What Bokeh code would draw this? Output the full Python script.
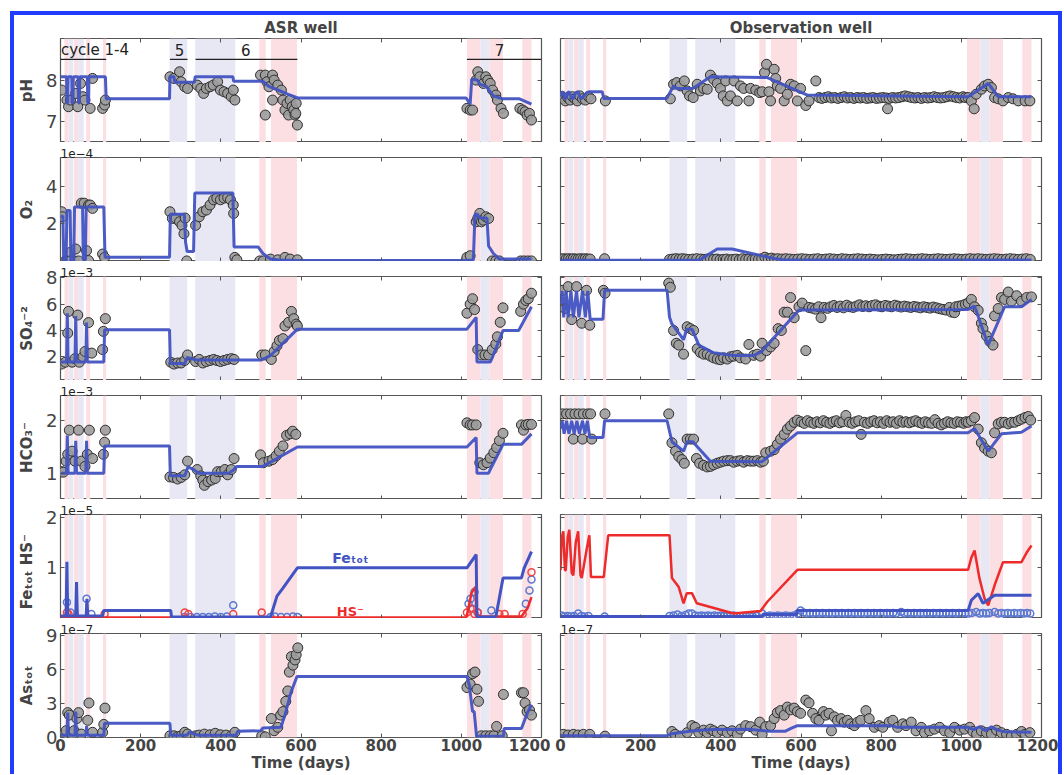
from bokeh.plotting import figure
from bokeh.layouts import column, row
from bokeh.models import Range1d, LinearAxis, FixedTicker, Title
from bokeh.embed import file_html
from bokeh.resources import INLINE
from bokeh.core.properties import value

FONT = "DejaVu Sans"
BLUE = "#4253c2"
RED = "#ee2b2b"
OPEN_BLUE = "#5a78d0"
OPEN_RED = "#f04545"
GRAY = "#9c9c9c"
EDGE = "#2e2e2e"
PINK = "#fbdfe3"
LAV = "#e8e8f5"
FRAME = "#555555"

# ---------------- shared axes / annotations ----------------
X_TICKS = [0, 200, 400, 600, 800, 1000, 1200]
PINK_BANDS = [(10, 20), (34, 44), (64, 74), (106, 114), (496, 512), (525, 590),
              (1014, 1048), (1070, 1104), (1152, 1175)]
LAV_BANDS = [(20, 32), (44, 58), (272, 316), (336, 436), (1048, 1070)]
CYCLE_TEXT = ["cycle 1-4", "5", "6", "7"]
CYCLE_TEXT_X = [1, 297, 462, 1095]
CYCLE_SPANS = [(0, 114), (273, 317), (337, 591), (1014, 1200)]
ROW_YRANGE = [(6.5, 9.0), (-0.03, 5.55), (0.2, 8.1), (0.5, 2.48), (0.0, 2.05), (0.0, 9.2)]
ROW_YTICKS = [[7, 8], [2, 4], [2, 4, 6, 8], [1, 2], [1, 2], [0, 3, 6, 9]]
ROW_YLABEL = ["pH", "O₂", "SO₄⁻²", "HCO₃⁻", "Feₜₒₜ   HS⁻", "Asₜₒₜ"]
OFFSET_LEFT = [None, "1e−4", "1e−3", "1e−3", "1e−5", "1e−7"]
OFFSET_RIGHT = [None, None, None, None, None, "1e−7"]
COL_TITLES = ["ASR well", "Observation well"]

# ---------------- ASR well (values in axis units: pH, 1e-4, 1e-3, 1e-3, 1e-5, 1e-7) ----------------
ASR_PH_MODEL = [(0, 8.08), (15, 8.08), (16, 7.45), (18, 7.45), (19, 8.08), (28, 8.08), (29, 7.45), (31, 7.45),
                (32, 8.08), (44, 8.08), (45, 7.45), (47, 7.45), (48, 8.08), (67, 8.08), (68, 7.45), (70, 7.45),
                (71, 8.08), (112, 8.08), (114, 7.55), (272, 7.55), (273, 8.08), (283, 8.08), (285, 7.95),
                (334, 7.95), (336, 8.08), (430, 8.08), (432, 7.97), (505, 7.97), (520, 7.85), (545, 7.75),
                (570, 7.65), (592, 7.57), (1012, 7.57), (1022, 7.42), (1026, 8.02), (1040, 8.0), (1046, 7.9),
                (1062, 7.85), (1080, 7.62), (1102, 7.55), (1145, 7.55), (1175, 7.42)]
ASR_PH_DATA = [(3, 7.76), (16, 7.52), (20, 7.36), (25, 7.52), (38, 7.68), (43, 7.36), (50, 7.92), (56, 7.6),
               (61, 7.52), (74, 7.32), (80, 8.04), (105, 7.32), (110, 7.4), (112, 7.52),
               (273, 8.08), (283, 8.04), (297, 8.2), (301, 7.96), (310, 7.84), (317, 7.8),
               (341, 7.88), (350, 7.8), (357, 7.68), (364, 7.8), (373, 7.84), (381, 7.88), (392, 7.96),
               (399, 7.76), (408, 7.72), (417, 7.68), (426, 7.6), (431, 7.76), (435, 7.52),
               (499, 8.12), (511, 8.12), (515, 7.96), (520, 7.84), (529, 8.12), (529, 7.52), (511, 7.16),
               (533, 8.0), (542, 7.88), (551, 7.76), (555, 7.52), (560, 7.28), (565, 7.44), (569, 7.16),
               (573, 7.52), (578, 7.36), (582, 7.28), (585, 7.16), (588, 7.44), (591, 6.92), (587, 7.2),
               (1014, 7.32), (1022, 7.28), (1028, 7.28), (1037, 8.0), (1041, 8.2), (1046, 8.08), (1055, 7.92),
               (1061, 8.08), (1066, 8.0), (1072, 7.92), (1078, 7.76), (1086, 7.64), (1090, 7.52), (1099, 7.32),
               (1105, 7.2), (1146, 7.32), (1153, 7.28), (1159, 7.24), (1164, 7.16), (1170, 7.2), (1175, 7.04)]

ASR_O2_MODEL = [(0, 2.4), (6, 2.4), (8, 0.0), (14, 0.0), (16, 2.7), (24, 2.7), (26, 0.0), (33, 0.0), (35, 2.9),
                (55, 2.9), (57, 0.05), (62, 0.05), (64, 2.9), (108, 2.9), (111, 0.2), (272, 0.2), (274, 2.5),
                (309, 2.5), (312, 1.0), (316, 0.5), (332, 0.5), (335, 3.65), (430, 3.65), (433, 0.75),
                (493, 0.75), (505, 0.4), (524, 0.1), (545, 0.05), (592, 0.02), (1010, 0.02), (1030, 0.05),
                (1034, 2.5), (1040, 2.5), (1046, 2.3), (1064, 2.3), (1068, 0.8), (1080, 0.4), (1095, 0.1),
                (1175, 0.1)]
ASR_O2_DATA = [(3, 2.64), (5, 2.37), (12, 0.0), (16, 0.0), (25, 0.46), (34, 0.0), (38, 0.64), (52, 3.1),
               (59, 3.1), (65, 0.55), (70, 3.0), (74, 3.0), (80, 2.82), (105, 0.37), (110, 0.19), (25, 0.0),
               (45, 0.0), (70, 0.02),
               (273, 2.64), (279, 2.28), (288, 2.28), (297, 2.1), (303, 1.91), (308, 1.46), (311, 2.3), (315, 0.0),
               (337, 1.91), (346, 2.37), (355, 2.64), (364, 2.73), (373, 3.0), (382, 3.28), (390, 3.37),
               (399, 3.28), (408, 3.37), (417, 3.4), (424, 3.28), (431, 3.0), (432, 2.55), (435, 0.19), (440, 0.06),
               (497, 0.0), (506, 0.0), (524, 0.1), (542, 0.06), (560, 0.19), (573, 0.1), (591, 0.06),
               (1014, 0.19), (1022, 0.28), (1037, 2.1), (1041, 2.28), (1046, 2.55), (1050, 2.1), (1055, 2.19),
               (1061, 2.37), (1068, 2.28), (1077, 0.0), (1086, 0.0), (1095, 0.0), (1148, 0.0), (1157, 0.0),
               (1166, 0.0), (1175, 0.0)]

ASR_SO4_MODEL = [(0, 1.6), (15, 1.6), (17, 5.3), (19, 1.6), (36, 1.6), (38, 5.1), (40, 1.6), (63, 1.6),
                 (65, 4.6), (67, 1.6), (108, 1.6), (110, 4.05), (272, 4.05), (274, 1.5), (310, 1.5),
                 (316, 1.95), (340, 1.75), (500, 1.75), (524, 2.1), (591, 4.1), (1014, 4.1), (1037, 5.0),
                 (1039, 1.6), (1072, 1.6), (1078, 2.0), (1104, 4.0), (1143, 4.0), (1175, 5.8)]
ASR_SO4_DATA = [(3, 1.45), (12, 1.59), (20, 5.45), (18, 3.8), (29, 1.59), (36, 1.86), (43, 5.17), (47, 1.59),
                (56, 2.0), (61, 2.4), (70, 4.6), (78, 2.28), (105, 2.55), (107, 3.93), (112, 4.9),
                (275, 1.59), (283, 1.45), (292, 1.53), (301, 1.53), (310, 1.72), (317, 2.14),
                (337, 1.64), (346, 1.8), (355, 1.53), (364, 1.64), (373, 1.72), (382, 1.8), (390, 1.72),
                (399, 1.64), (408, 1.72), (417, 1.8), (426, 1.86), (433, 1.8),
                (502, 2.14), (511, 2.14), (526, 1.8), (533, 2.41), (540, 2.83), (546, 3.24), (555, 3.38),
                (560, 4.34), (569, 4.62), (576, 5.45), (582, 4.9), (588, 4.48), (591, 4.34),
                (1014, 5.31), (1022, 6.0), (1028, 6.41), (1033, 5.59), (1041, 2.55), (1050, 2.14), (1059, 2.14),
                (1068, 2.14), (1077, 2.55), (1086, 2.97), (1090, 3.52), (1097, 4.62), (1104, 5.72),
                (1148, 5.45), (1155, 6.0), (1161, 6.28), (1167, 6.41), (1175, 6.83)]

ASR_HCO3_MODEL = [(0, 1.0), (15, 1.0), (17, 1.72), (19, 1.0), (36, 1.0), (38, 1.62), (40, 1.0), (63, 1.0),
                  (65, 1.62), (67, 1.0), (108, 1.0), (110, 1.52), (272, 1.52), (274, 0.95), (310, 0.95),
                  (318, 1.12), (330, 1.08), (345, 1.0), (420, 1.0), (430, 1.05), (440, 1.13), (505, 1.13),
                  (591, 1.5), (1014, 1.5), (1037, 1.68), (1039, 1.0), (1068, 1.0), (1074, 1.1), (1104, 1.55),
                  (1150, 1.55), (1175, 1.75)]
ASR_HCO3_DATA = [(3, 1.03), (7, 1.02), (14, 1.23), (18, 1.36), (22, 1.82), (29, 1.42), (36, 1.23), (45, 1.82),
                 (52, 1.23), (61, 1.13), (67, 1.36), (72, 1.82), (80, 1.28), (107, 1.36), (110, 1.59), (112, 1.82),
                 (273, 0.93), (282, 0.92), (292, 0.89), (301, 0.92), (310, 0.97), (317, 1.23),
                 (341, 1.07), (350, 0.95), (355, 0.87), (359, 0.77), (368, 0.84), (377, 0.87), (386, 0.9),
                 (392, 1.03), (401, 1.03), (410, 1.07), (417, 0.97), (426, 1.07), (433, 1.28),
                 (499, 1.35), (506, 1.2), (520, 1.23), (529, 1.26), (538, 1.33), (546, 1.42), (555, 1.52),
                 (564, 1.72), (573, 1.75), (579, 1.8), (587, 1.74),
                 (1014, 1.96), (1022, 1.92), (1028, 1.92), (1037, 1.92), (1046, 1.2), (1055, 1.16), (1064, 1.2),
                 (1072, 1.29), (1081, 1.39), (1088, 1.49), (1095, 1.62), (1104, 1.76), (1150, 1.92),
                 (1155, 1.82), (1161, 1.92), (1167, 1.93), (1175, 1.93)]

ASR_FE_MODEL = [(0, 0.05), (14, 0.05), (16, 1.12), (18, 0.05), (38, 0.05), (40, 0.72), (42, 0.05), (64, 0.05),
                (66, 0.39), (68, 0.05), (105, 0.05), (108, 0.16), (275, 0.16), (277, 0.03), (524, 0.03),
                (540, 0.44), (555, 0.6), (591, 1.0), (1014, 1.0), (1037, 1.26), (1039, 0.03), (1086, 0.03),
                (1104, 0.8), (1150, 0.8), (1157, 1.0), (1175, 1.32)]
ASR_HS_MODEL = [(0, 0.02), (14, 0.02), (16, 0.5), (18, 0.02), (38, 0.02), (40, 0.25), (42, 0.02), (1012, 0.02),
                (1018, 0.2), (1025, 0.5), (1035, 0.62), (1038, 0.04), (1150, 0.04), (1165, 0.2), (1175, 0.42)]
ASR_FE_DATA = [(16, 0.32), (25, 0.12), (65, 0.39), (77, 0.09), (310, 0.03), (325, 0.03), (340, 0.03),
               (355, 0.03), (370, 0.03), (385, 0.04), (400, 0.03), (415, 0.04), (431, 0.26), (524, 0.03),
               (535, 0.04), (550, 0.03), (565, 0.03), (580, 0.04), (591, 0.03), (1018, 0.29), (1023, 0.39),
               (1028, 0.19), (1033, 0.52), (1041, 0.12), (1075, 0.16), (1161, 0.29), (1170, 0.55), (1175, 0.77)]
ASR_HS_DATA = [(16, 0.12), (20, 0.09), (110, 0.09), (310, 0.12), (319, 0.09), (431, 0.09), (502, 0.12),
               (1014, 0.12), (1023, 0.19), (1033, 0.09), (1041, 0.12), (1095, 0.09), (1108, 0.09),
               (1153, 0.09), (1175, 0.91)]
FE_TEXT, FE_TEXT_X, FE_TEXT_Y = "Feₜₒₜ", 723, 1.2
HS_TEXT, HS_TEXT_X, HS_TEXT_Y = "HS⁻", 723, 0.13

ASR_AS_MODEL = [(0, 0.2), (16, 0.2), (18, 2.2), (20, 0.2), (36, 0.2), (38, 2.3), (40, 0.2), (63, 0.2), (65, 1.0),
                (67, 0.2), (108, 0.2), (110, 1.25), (273, 1.25), (275, 0.2), (315, 0.2), (322, 0.5), (335, 0.3),
                (345, 0.2), (438, 0.2), (442, 0.55), (500, 0.6), (505, 0.85), (550, 0.9), (560, 2.0),
                (575, 4.0), (590, 5.4), (1014, 5.4), (1020, 4.6), (1028, 2.3), (1032, 2.3), (1038, 0.1),
                (1105, 0.1), (1107, 0.8), (1150, 0.8), (1165, 2.2), (1175, 2.9)]
ASR_AS_DATA = [(3, 0.15), (7, 0.24), (14, 0.6), (18, 2.2), (22, 1.98), (29, 0.3), (34, 0.6), (41, 1.68),
               (45, 2.2), (52, 0.3), (68, 1.52), (71, 3.05), (80, 0.46), (105, 0.46), (108, 1.16), (111, 2.6),
               (273, 0.15), (283, 0.15), (292, 0.06), (301, 0.15), (310, 0.46), (317, 0.3),
               (337, 0.15), (346, 0.21), (359, 0.3), (373, 0.24), (386, 0.37), (399, 0.24), (413, 0.21),
               (426, 0.15), (435, 0.46),
               (502, 0.15), (511, 0.06), (526, 1.68), (533, 0.6), (542, 0.9), (549, 1.98), (555, 2.29),
               (562, 3.2), (567, 4.12), (571, 5.79), (576, 7.16), (580, 6.4), (585, 6.86), (588, 7.32),
               (592, 7.93),
               (1014, 4.42), (1022, 4.73), (1028, 5.64), (1034, 5.79), (1039, 4.27), (1043, 3.2), (1050, 0.15),
               (1061, 0.15), (1072, 0.15), (1081, 0.15), (1088, 0.98), (1102, 0.15), (1105, 3.81),
               (1150, 3.96), (1155, 3.96), (1159, 3.05), (1164, 2.29), (1170, 2.44), (1175, 1.98)]

# ---------------- Observation well ----------------
OBS_PH_MODEL = [(0, 7.6), (3, 7.7), (7, 7.72), (11, 7.55), (14, 7.56), (18, 7.7), (22, 7.72), (28, 7.55),
                (32, 7.56), (38, 7.7), (44, 7.72), (50, 7.55), (53, 7.56), (66, 7.7), (72, 7.72), (104, 7.72),
                (108, 7.56), (265, 7.56), (282, 7.86), (290, 7.8), (330, 7.8), (374, 8.08), (516, 8.06),
                (616, 7.64), (1017, 7.6), (1067, 7.92), (1092, 7.6), (1175, 7.6)]
OBS_PH_DATA = [(3, 7.6), (8, 7.55), (12, 7.5), (18, 7.58), (24, 7.52), (30, 7.6), (36, 7.55), (42, 7.5),
               (48, 7.62), (55, 7.55), (62, 7.52), (70, 7.6), (76, 7.55), (112, 7.5),
               (274, 7.55), (282, 7.9), (290, 7.94), (299, 7.86), (309, 7.98), (316, 7.74), (322, 7.62),
               (331, 7.58), (341, 7.9), (349, 7.74), (357, 7.8), (366, 7.78), (374, 8.12), (382, 8.02),
               (391, 7.92), (399, 7.8), (406, 7.62), (412, 7.98), (416, 7.5), (424, 7.62), (433, 7.98),
               (441, 7.5), (449, 7.86), (457, 7.8), (470, 7.5), (474, 7.8), (487, 7.76), (497, 7.7),
               (503, 7.72), (509, 8.18), (514, 8.38), (520, 7.72), (524, 7.5), (533, 8.26), (537, 8.04),
               (541, 7.86), (549, 7.8), (558, 7.5), (566, 7.66), (574, 7.9), (583, 7.86), (591, 7.5),
               (599, 7.8), (612, 7.39), (620, 7.5), (637, 7.98),
               (645, 7.58), (652, 7.56), (660, 7.58), (668, 7.6), (676, 7.57), (684, 7.58), (692, 7.56),
               (700, 7.58), (708, 7.6), (716, 7.57), (724, 7.58), (732, 7.56), (740, 7.58), (748, 7.57),
               (756, 7.58), (764, 7.56), (772, 7.57), (780, 7.58), (788, 7.56), (796, 7.57), (804, 7.58),
               (812, 7.57), (816, 7.31), (820, 7.56), (828, 7.58), (836, 7.57), (844, 7.58), (852, 7.6),
               (860, 7.62), (868, 7.6), (876, 7.58), (884, 7.57), (892, 7.58), (900, 7.56), (908, 7.58),
               (916, 7.57), (924, 7.58), (932, 7.6), (940, 7.58), (948, 7.57), (956, 7.58), (964, 7.6),
               (972, 7.62), (980, 7.6), (988, 7.58), (996, 7.57), (1004, 7.6), (1010, 7.58),
               (1017, 7.58), (1025, 7.5), (1032, 7.31), (1037, 7.66), (1050, 7.78), (1058, 7.86), (1067, 7.9),
               (1075, 7.82), (1083, 7.58), (1092, 7.55), (1104, 7.5), (1117, 7.58), (1129, 7.55),
               (1142, 7.5), (1159, 7.5), (1171, 7.5)]

OBS_O2_MODEL = [(0, 0.04), (345, 0.04), (352, 0.12), (391, 0.64), (428, 0.64), (533, 0.13), (560, 0.05),
                (1175, 0.05)]
OBS_O2_DATA = [(3, 0.1), (8, 0.12), (14, 0.1), (20, 0.12), (26, 0.1), (32, 0.12), (38, 0.1), (44, 0.1),
               (50, 0.12), (56, 0.1), (62, 0.12), (68, 0.1), (74, 0.1), (110, 0.12), (272, 0.08), (280, 0.1),
               (288, 0.12), (296, 0.1), (304, 0.12), (312, 0.1), (320, 0.08), (330, 0.1), (340, 0.12),
               (350, 0.1), (358, 0.08), (366, 0.1), (374, 0.12), (382, 0.08), (390, 0.1), (398, 0.06),
               (406, 0.08), (414, 0.1), (422, 0.06), (430, 0.08), (438, 0.1), (446, 0.06), (454, 0.12),
               (462, 0.08), (470, 0.1), (478, 0.06), (486, 0.1), (494, 0.08), (502, 0.12), (510, 0.2),
               (518, 0.12), (526, 0.15), (534, 0.1), (542, 0.12), (552, 0.1), (562, 0.12), (572, 0.1),
               (582, 0.08), (592, 0.1), (602, 0.12), (612, 0.1), (622, 0.08), (632, 0.1), (642, 0.12),
               (652, 0.08), (662, 0.1), (672, 0.12), (682, 0.1), (692, 0.08), (702, 0.12), (712, 0.1),
               (722, 0.08), (732, 0.1), (742, 0.12), (752, 0.1), (762, 0.08), (772, 0.1), (782, 0.08),
               (792, 0.06), (802, 0.08), (812, 0.1), (822, 0.08), (832, 0.06), (842, 0.08), (852, 0.1),
               (862, 0.12), (872, 0.1), (882, 0.08), (892, 0.1), (902, 0.12), (912, 0.1), (922, 0.08),
               (932, 0.1), (942, 0.12), (952, 0.1), (962, 0.08), (972, 0.1), (982, 0.12), (992, 0.1),
               (1002, 0.08), (1012, 0.1), (1022, 0.12), (1032, 0.1), (1042, 0.12), (1052, 0.1), (1062, 0.08),
               (1072, 0.1), (1082, 0.12), (1092, 0.1), (1102, 0.08), (1112, 0.1), (1122, 0.12), (1132, 0.1),
               (1142, 0.08), (1152, 0.1), (1162, 0.12), (1172, 0.08)]

OBS_SO4_MODEL = [(0, 6.0), (4, 7.0), (8, 5.0), (14, 7.0), (19, 5.0), (26, 7.0), (32, 5.0), (40, 7.0),
                 (46, 5.0), (55, 7.0), (62, 5.0), (68, 7.0), (74, 4.85), (106, 4.85), (110, 7.05), (266, 7.05),
                 (272, 5.0), (278, 4.5), (307, 3.3), (315, 4.1), (328, 4.1), (345, 2.9), (382, 2.3),
                 (432, 2.1), (482, 2.1), (500, 2.35), (595, 5.55), (1017, 5.6), (1033, 5.85), (1067, 2.9),
                 (1108, 5.8), (1150, 5.8), (1175, 6.35)]
OBS_SO4_DATA = [(5, 7.05), (11, 5.67), (19, 7.33), (28, 4.83), (40, 7.33), (53, 4.55), (65, 7.05), (73, 4.4),
                (107, 7.05), (111, 6.83),
                (270, 7.6), (274, 7.28), (282, 4.0), (289, 3.03), (295, 2.89), (307, 2.2), (316, 4.28),
                (324, 4.14), (332, 4.0), (341, 2.61), (349, 2.33), (357, 2.2), (366, 2.2), (374, 2.05),
                (382, 1.92), (391, 1.83), (399, 1.78), (407, 1.92), (416, 1.83), (424, 2.0), (432, 2.05),
                (441, 2.11), (449, 1.92), (462, 1.83), (470, 2.94), (482, 2.11), (491, 2.2), (499, 2.05),
                (503, 3.03), (514, 2.47), (524, 2.75), (533, 3.03), (543, 4.14), (551, 4.0), (558, 5.39),
                (566, 5.39), (574, 6.5), (583, 4.97), (595, 5.8), (603, 6.08), (612, 2.47),
                (620, 5.75), (628, 5.7), (636, 5.62), (644, 5.8), (650, 4.97), (658, 5.75), (666, 5.68),
                (674, 5.8), (682, 5.9), (690, 5.75), (698, 5.85), (706, 5.72), (714, 5.92), (722, 5.8),
                (730, 5.75), (738, 5.85), (746, 5.95), (754, 5.82), (762, 5.88), (770, 5.8), (778, 5.9),
                (786, 5.95), (794, 5.85), (802, 5.8), (810, 5.9), (818, 5.85), (826, 5.8), (834, 5.92),
                (842, 5.85), (850, 5.78), (858, 5.85), (866, 5.8), (874, 5.75), (882, 5.82), (890, 5.78),
                (898, 5.72), (906, 5.8), (914, 5.75), (922, 5.7), (930, 5.78), (938, 5.72), (946, 5.65),
                (954, 5.6), (962, 5.55), (970, 5.75), (975, 5.4), (983, 5.35), (986, 5.8), (994, 5.85),
                (1002, 5.9), (1010, 6.0),
                (1017, 6.08), (1025, 6.36), (1033, 5.8), (1042, 5.53), (1050, 4.55), (1054, 4.14),
                (1063, 3.58), (1071, 3.17), (1079, 2.89), (1083, 5.11), (1092, 5.67), (1100, 6.5),
                (1108, 6.36), (1117, 6.92), (1125, 6.22), (1138, 6.64), (1150, 6.22), (1163, 6.5), (1175, 6.55)]

OBS_HCO3_MODEL = [(0, 1.85), (4, 2.0), (9, 1.75), (15, 2.0), (21, 1.75), (28, 2.0), (34, 1.75), (41, 2.0),
                  (47, 1.75), (55, 2.0), (61, 1.75), (67, 2.0), (73, 1.68), (106, 1.68), (110, 2.0),
                  (266, 2.0), (278, 1.6), (307, 1.42), (316, 1.6), (330, 1.6), (374, 1.23), (503, 1.22),
                  (591, 1.77), (1017, 1.77), (1033, 1.85), (1067, 1.42), (1100, 1.75), (1150, 1.78),
                  (1175, 1.9)]
OBS_HCO3_DATA = [(5, 2.13), (15, 2.13), (25, 2.13), (32, 1.65), (36, 2.13), (46, 2.13), (55, 1.65),
                 (57, 2.13), (68, 2.13), (75, 2.13), (78, 1.65), (111, 2.13),
                 (270, 2.13), (278, 1.58), (287, 1.42), (295, 1.32), (303, 1.26), (309, 1.19), (316, 1.65),
                 (324, 1.65), (332, 1.65), (339, 1.28), (347, 1.19), (357, 1.15), (366, 1.12), (374, 1.13),
                 (382, 1.16), (391, 1.19), (399, 1.21), (407, 1.23), (416, 1.24), (424, 1.24), (432, 1.21),
                 (441, 1.23), (449, 1.24), (457, 1.21), (466, 1.24), (474, 1.23), (482, 1.23), (491, 1.24),
                 (499, 1.21), (506, 1.23), (512, 1.39), (524, 1.42), (533, 1.45), (541, 1.55), (549, 1.65),
                 (558, 1.74), (566, 1.84), (574, 1.9), (583, 1.97), (591, 2.01),
                 (600, 1.98), (608, 1.95), (616, 2.0), (624, 1.97), (632, 1.95), (640, 1.98), (648, 1.96),
                 (656, 2.0), (664, 1.97), (672, 1.95), (680, 1.98), (688, 2.0), (696, 1.96), (704, 1.98),
                 (712, 2.1), (720, 1.97), (728, 1.95), (736, 1.98), (744, 2.0), (750, 1.74), (758, 1.97),
                 (766, 1.95), (774, 1.98), (782, 2.0), (790, 1.96), (798, 1.98), (806, 1.95), (814, 2.0),
                 (822, 1.97), (830, 1.98), (838, 1.95), (846, 2.0), (854, 1.97), (862, 1.98), (870, 1.96),
                 (878, 1.98), (886, 2.0), (894, 1.97), (902, 1.95), (910, 1.98), (918, 1.96), (926, 1.95),
                 (934, 2.02), (942, 1.95), (950, 1.92), (958, 1.95), (966, 1.98), (974, 1.96), (982, 1.95),
                 (990, 1.98), (998, 1.97), (1006, 1.95), (1012, 1.98),
                 (1017, 1.97), (1025, 2.0), (1033, 2.06), (1042, 1.84), (1050, 1.58), (1058, 1.48),
                 (1067, 1.42), (1075, 1.39), (1083, 1.77), (1092, 1.94), (1100, 1.97), (1108, 1.97),
                 (1117, 1.94), (1125, 1.97), (1133, 1.97), (1142, 2.0), (1150, 2.03), (1159, 2.06),
                 (1167, 2.08), (1173, 2.01)]

OBS_HS_MODEL = [(0, 0.95), (3, 1.6), (7, 1.72), (11, 0.95), (13, 0.95), (18, 1.6), (22, 1.75), (28, 0.9),
                (32, 0.85), (38, 1.5), (44, 1.72), (50, 0.85), (53, 0.8), (66, 1.4), (72, 1.64), (76, 0.82),
                (108, 0.82), (119, 1.64), (272, 1.64), (278, 0.8), (295, 0.62), (307, 0.3), (315, 0.5),
                (328, 0.5), (340, 0.3), (432, 0.1), (499, 0.15), (516, 0.33), (591, 0.96), (1017, 0.96),
                (1025, 1.2), (1033, 1.34), (1045, 0.8), (1058, 0.39), (1067, 0.26), (1085, 0.7),
                (1104, 1.11), (1150, 1.11), (1163, 1.3), (1175, 1.44)]
OBS_FE_MODEL = [(0, 0.04), (503, 0.04), (505, 0.08), (589, 0.08), (591, 0.16), (1017, 0.16), (1025, 0.36),
                (1042, 0.49), (1054, 0.3), (1083, 0.46), (1175, 0.46)]
OBS_FE_DATA = [(3, 0.06), (10, 0.04), (18, 0.05), (26, 0.04), (34, 0.05), (44, 0.1), (52, 0.05), (60, 0.04),
               (70, 0.05), (110, 0.04), (272, 0.05), (282, 0.06), (292, 0.08), (302, 0.05), (312, 0.07),
               (320, 0.1), (328, 0.1), (336, 0.06), (344, 0.05), (352, 0.06), (360, 0.05), (368, 0.06),
               (376, 0.05), (384, 0.06), (392, 0.05), (400, 0.06), (408, 0.05), (416, 0.06), (424, 0.05),
               (432, 0.06), (440, 0.05), (448, 0.04), (456, 0.05), (464, 0.04), (472, 0.05), (480, 0.04),
               (490, 0.05), (503, 0.1), (512, 0.05), (522, 0.06), (532, 0.05), (542, 0.06), (552, 0.05),
               (562, 0.06), (572, 0.05), (582, 0.06), (592, 0.1), (599, 0.16), (606, 0.12), (614, 0.1),
               (622, 0.11), (630, 0.1), (638, 0.11), (646, 0.1), (654, 0.11), (662, 0.1), (670, 0.11),
               (678, 0.1), (686, 0.11), (694, 0.1), (702, 0.11), (710, 0.1), (718, 0.11), (726, 0.1),
               (734, 0.11), (742, 0.1), (750, 0.11), (758, 0.1), (766, 0.11), (774, 0.1), (782, 0.11),
               (790, 0.1), (798, 0.11), (806, 0.1), (814, 0.11), (822, 0.1), (830, 0.11), (838, 0.1),
               (850, 0.13), (858, 0.1), (866, 0.11), (874, 0.1), (882, 0.11), (890, 0.1), (898, 0.11),
               (906, 0.1), (914, 0.11), (922, 0.1), (930, 0.11), (938, 0.1), (946, 0.11), (954, 0.1),
               (962, 0.11), (970, 0.1), (978, 0.11), (986, 0.1), (994, 0.11), (1002, 0.1), (1010, 0.11),
               (1018, 0.1), (1026, 0.11), (1037, 0.13), (1046, 0.1), (1054, 0.11), (1062, 0.1), (1070, 0.11),
               (1083, 0.13), (1092, 0.1), (1100, 0.11), (1108, 0.1), (1116, 0.11), (1124, 0.1), (1132, 0.11),
               (1140, 0.1), (1148, 0.11), (1156, 0.1), (1164, 0.11), (1172, 0.1)]

OBS_AS_MODEL = [(0, 0.15), (265, 0.15), (278, 0.34), (332, 0.59), (380, 0.7), (470, 0.74), (520, 0.55),
                (560, 0.55), (575, 0.8), (591, 1.05), (825, 1.05), (840, 0.9), (1017, 0.9), (1030, 0.7),
                (1045, 0.95), (1060, 0.6), (1075, 0.95), (1090, 0.65), (1110, 0.5), (1175, 0.46)]
OBS_AS_DATA = [(7, 0.28), (19, 0.22), (32, 0.28), (44, 0.22), (57, 0.28), (73, 0.28), (111, 0.12),
               (278, 0.53), (286, 0.28), (299, 0.12), (316, 0.43), (328, 1.05), (336, 0.9), (345, 0.43),
               (357, 0.65), (366, 0.43), (374, 0.74), (382, 0.59), (391, 0.43), (403, 0.65), (416, 0.43),
               (428, 0.59), (441, 0.28), (449, 0.74), (462, 1.05), (474, 0.96), (487, 0.65), (497, 1.36),
               (503, 0.28), (512, 0.96), (524, 1.05), (533, 1.67), (541, 2.2), (549, 2.38), (558, 1.98),
               (566, 2.69), (574, 2.45), (583, 2.6), (591, 2.29), (599, 2.14), (612, 3.31), (620, 3.07),
               (629, 2.14), (637, 1.67), (645, 1.52), (656, 2.29), (662, 1.98), (670, 2.14), (676, 0.59),
               (683, 1.83), (691, 1.52), (700, 1.67), (708, 1.36), (716, 1.52), (724, 1.21), (733, 1.05),
               (741, 1.36), (749, 1.52), (762, 2.38), (770, 1.67), (783, 0.9), (795, 1.05), (804, 0.9),
               (820, 1.36), (829, 1.52), (841, 0.9), (854, 1.21), (862, 1.05), (875, 1.36), (887, 0.59),
               (900, 0.9), (908, 0.43), (921, 0.59), (933, 0.74), (946, 0.9), (958, 0.59), (971, 0.43),
               (983, 0.9), (996, 0.65), (1008, 0.74), (1021, 0.9), (1029, 0.53), (1038, 0.28), (1050, 0.59),
               (1063, 0.43), (1075, 0.28), (1088, 0.65), (1100, 0.43), (1113, 0.28), (1125, 0.12),
               (1138, 0.28), (1150, 0.53), (1159, 0.28), (1171, 0.43)]

ASR_ROWS = [(ASR_PH_MODEL, ASR_PH_DATA), (ASR_O2_MODEL, ASR_O2_DATA), (ASR_SO4_MODEL, ASR_SO4_DATA),
            (ASR_HCO3_MODEL, ASR_HCO3_DATA), None, (ASR_AS_MODEL, ASR_AS_DATA)]
OBS_ROWS = [(OBS_PH_MODEL, OBS_PH_DATA), (OBS_O2_MODEL, OBS_O2_DATA), (OBS_SO4_MODEL, OBS_SO4_DATA),
            (OBS_HCO3_MODEL, OBS_HCO3_DATA), None, (OBS_AS_MODEL, OBS_AS_DATA)]


def xy(pairs):
    return [a for a, _ in pairs], [b for _, b in pairs]


def style_axis(ax, ticks, show_labels):
    ax.ticker = FixedTicker(ticks=ticks)
    ax.major_tick_in = 4
    ax.major_tick_out = 0
    ax.minor_tick_line_color = None
    ax.axis_line_color = None
    ax.major_tick_line_color = FRAME
    ax.major_tick_line_width = 1
    if not show_labels:
        ax.major_label_overrides = {t: "" for t in ticks}
        ax.major_label_text_font_size = "0px"
        ax.major_label_standoff = 0


def make_fig(r, c):
    left = c == 0
    mbl, mbr = (46, 9) if left else (10, 17)
    mbt = 23 if r == 0 else 15
    mbb = 37 if r == 5 else 0
    lo, hi = ROW_YRANGE[r]
    p = figure(width=mbl + 481 + mbr, height=mbt + 104 + mbb,
               x_range=Range1d(0, 1200), y_range=Range1d(lo, hi),
               output_backend="svg", toolbar_location=None,
               min_border_left=mbl, min_border_right=mbr, min_border_top=mbt, min_border_bottom=mbb,
               background_fill_color="white", border_fill_color="white")
    p.grid.visible = False
    p.outline_line_color = FRAME
    p.outline_line_width = 1.2
    if r == 0:
        p.title.text = COL_TITLES[c]
        p.title.align = "center"
        p.title.text_font = FONT
        p.title.text_font_size = "15px"
        p.title.text_font_style = "bold"
        p.title.standoff = 3
        p.title.offset = 0

    xa = p.xaxis[0]
    style_axis(xa, X_TICKS, r == 5)
    if r == 5:
        xa.major_label_text_font = FONT
        xa.major_label_text_font_size = "15px"
        xa.major_label_text_font_style = "bold"
        xa.major_label_standoff = 1
        xa.axis_label = "Time (days)"
        xa.axis_label_text_font = FONT
        xa.axis_label_text_font_size = "15px"
        xa.axis_label_text_font_style = "bold"
        xa.axis_label_standoff = 0
    ya = p.yaxis[0]
    style_axis(ya, ROW_YTICKS[r], left)
    if left:
        ya.major_label_text_font = FONT
        ya.major_label_text_font_size = "18px"
        ya.major_label_standoff = 3
        ya.axis_label = ROW_YLABEL[r]
        ya.axis_label_text_font = FONT
        ya.axis_label_text_font_size = "15px"
        ya.axis_label_text_font_style = "bold"
        ya.axis_label_standoff = 7
    top_ax = LinearAxis()
    style_axis(top_ax, X_TICKS, False)
    p.add_layout(top_ax, "above")
    right_ax = LinearAxis()
    style_axis(right_ax, ROW_YTICKS[r], False)
    p.add_layout(right_ax, "right")

    off = OFFSET_LEFT[r] if left else OFFSET_RIGHT[r]
    if off:
        p.add_layout(Title(text=off, align="left", text_font=FONT, text_font_size="12px",
                           text_font_style="normal", text_color="#222222", standoff=0, offset=0), "above")

    # background cycle bands
    p.quad(left=[a for a, _ in PINK_BANDS], right=[b for _, b in PINK_BANDS], bottom=lo, top=hi,
           fill_color=PINK, line_color=None, level="underlay")
    p.quad(left=[a for a, _ in LAV_BANDS], right=[b for _, b in LAV_BANDS], bottom=lo, top=hi,
           fill_color=LAV, line_color=None, level="underlay")
    return p


def add_model_data(p, model, data):
    dx, dy = xy(data)
    mx, my = xy(model)
    p.scatter(dx, dy, size=10, fill_color=GRAY, fill_alpha=0.9, line_color=EDGE, line_width=1)
    p.line(mx, my, line_color=BLUE, line_width=3, line_alpha=0.95)


figs = []
for r in range(6):
    pair = []
    for c in range(2):
        p = make_fig(r, c)
        rows_src = ASR_ROWS if c == 0 else OBS_ROWS
        if r != 4:
            add_model_data(p, *rows_src[r])
        else:
            if c == 0:
                fx, fy = xy(ASR_FE_DATA)
                hx, hy = xy(ASR_HS_DATA)
                p.scatter(fx, fy, size=7, fill_color=None, line_color=OPEN_BLUE, line_width=1.5)
                p.scatter(hx, hy, size=7, fill_color=None, line_color=OPEN_RED, line_width=1.5)
                mx, my = xy(ASR_HS_MODEL)
                p.line(mx, my, line_color=RED, line_width=2.5)
                mx, my = xy(ASR_FE_MODEL)
                p.line(mx, my, line_color=BLUE, line_width=3)
                p.text(x=[FE_TEXT_X], y=[FE_TEXT_Y], text=[FE_TEXT], text_color=BLUE,
                       text_font=value(FONT), text_font_size="14px", text_font_style="bold",
                       text_align="center", text_baseline="middle")
                p.text(x=[HS_TEXT_X], y=[HS_TEXT_Y], text=[HS_TEXT], text_color=RED,
                       text_font=value(FONT), text_font_size="13px", text_font_style="bold",
                       text_align="center", text_baseline="middle")
            else:
                fx, fy = xy(OBS_FE_DATA)
                p.scatter(fx, fy, size=7, fill_color=None, line_color=OPEN_BLUE, line_width=1.5)
                mx, my = xy(OBS_HS_MODEL)
                p.line(mx, my, line_color=RED, line_width=2.5)
                mx, my = xy(OBS_FE_MODEL)
                p.line(mx, my, line_color=BLUE, line_width=3)
        if r == 0 and c == 0:
            p.segment(x0=[a for a, _ in CYCLE_SPANS], x1=[b for _, b in CYCLE_SPANS],
                      y0=[8.5] * len(CYCLE_SPANS), y1=[8.5] * len(CYCLE_SPANS),
                      line_color="#222222", line_width=1.2)
            p.text(x=CYCLE_TEXT_X[:1], y=[8.72], text=CYCLE_TEXT[:1], text_font=value(FONT),
                   text_font_size="15px", text_align="left", text_baseline="middle", text_color="#222222")
            p.text(x=CYCLE_TEXT_X[1:], y=[8.72] * 3, text=CYCLE_TEXT[1:], text_font=value(FONT),
                   text_font_size="15px", text_align="center", text_baseline="middle", text_color="#222222")
        pair.append(p)
    figs.append(pair)

BORDER = "4px solid #1f3cff"
layout = column(*[row(a, b) for a, b in figs],
                styles={"border-left": BORDER, "border-top": BORDER, "border-right": BORDER,
                        "margin-left": "10px", "margin-top": "11px"})

open("out.html", "w").write(file_html(layout, INLINE))
